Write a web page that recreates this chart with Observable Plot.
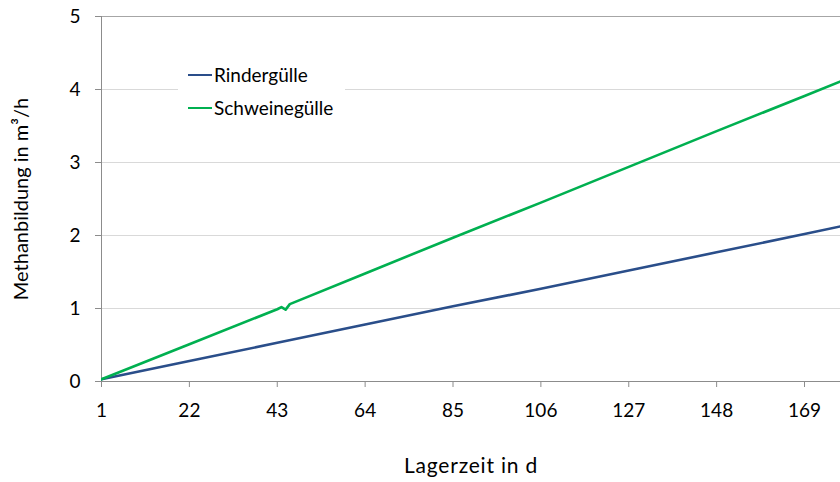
<!DOCTYPE html>
<html>
<head>
<meta charset="utf-8">
<script src="https://cdn.jsdelivr.net/npm/d3@7"></script>
<script src="https://cdn.jsdelivr.net/npm/@observablehq/plot@0.6"></script>
<style>
  html, body { margin: 0; padding: 0; background: #fff; }
  #wrap { position: relative; width: 840px; height: 482px; font-family: Lato, sans-serif; }
  #legend { position: absolute; left: 178px; top: 60px; width: 167px; height: 62px; background: #fff;
            font-family: Lato, sans-serif; font-size: 19px; color: #000; }
  .item { position: absolute; left: 10px; display: flex; align-items: center; height: 22px; line-height: 22px; }
  .sw { width: 24px; height: 0; border-top: 2.6px solid; margin-right: 2px; }
  svg [aria-label="y-axis label"] text { font-size: 20px; }
  svg [aria-label="x-axis label"] text { font-size: 21px; letter-spacing: 0.8px; }
</style>
</head>
<body>
<div id="wrap"><div id="legend"></div></div>
<script>
const seriesNames = ["Rindergülle", "Schweinegülle"];
const seriesColors = ["#2A4E8A", "#00B050"];
const xTicks = [1, 22, 43, 64, 85, 106, 127, 148, 169];
const yTicks = [0, 1, 2, 3, 4, 5];

const rinderDays   = [1, 22, 43, 64, 85, 106, 127, 148, 169, 178];
const rinderValues = [0.03, 0.28, 0.53, 0.78, 1.03, 1.27, 1.52, 1.77, 2.02, 2.13];

const schweineDays   = [1, 22, 43, 44, 45, 46, 64, 85, 106, 127, 148, 169, 178];
const schweineValues = [0.03, 0.51, 0.99, 1.02, 0.985, 1.06, 1.48, 1.97, 2.45, 2.94, 3.43, 3.91, 4.12];

const rows = [
  ...rinderDays.map((d, i) => ({day: d, value: rinderValues[i], series: seriesNames[0]})),
  ...schweineDays.map((d, i) => ({day: d, value: schweineValues[i], series: seriesNames[1]}))
];

const chart = Plot.plot({
  width: 840,
  height: 482,
  marginTop: 16,
  marginBottom: 101,
  marginLeft: 101,
  marginRight: 0,
  style: {fontFamily: "Lato, sans-serif", fontSize: "19px", color: "#000", background: "#fff"},
  x: {domain: [1, 177.6]},
  y: {domain: [0, 5]},
  color: {domain: seriesNames, range: seriesColors},
  marks: [
    Plot.ruleY(yTicks.filter(t => t > 0 && t < 5), {stroke: "#d9d9d9", strokeWidth: 1}),
    Plot.ruleY([5], {stroke: "#a6a6a6", strokeWidth: 1}),
    Plot.axisY({ticks: yTicks, tickSize: 6, tickPadding: 15, stroke: "#8c8c8c", tickFormat: d => String(d),
      label: "Methanbildung in m³/h", labelAnchor: "center", labelArrow: "none", labelOffset: 88, fill: "#000"}),
    Plot.axisX({ticks: xTicks, tickSize: 6, tickPadding: 16, stroke: "#8c8c8c", tickFormat: d => String(d),
      label: "Lagerzeit in d", labelAnchor: "center", labelArrow: "none", labelOffset: 91, fill: "#000"}),
    Plot.ruleX([1], {stroke: "#8c8c8c"}),
    Plot.ruleY([0], {stroke: "#8c8c8c"}),
    Plot.line(rows, {x: "day", y: "value", z: "series", stroke: "series", strokeWidth: 2.6, clip: true})
  ]
});
const wrap = document.getElementById("wrap");
wrap.insertBefore(chart, wrap.firstChild);

const legend = document.getElementById("legend");
seriesNames.forEach((name, i) => {
  const it = document.createElement("div");
  it.className = "item";
  it.style.top = (i === 0 ? 4 : 37) + "px";
  const sw = document.createElement("span");
  sw.className = "sw";
  sw.style.borderColor = seriesColors[i];
  const tx = document.createElement("span");
  tx.textContent = name;
  it.appendChild(sw); it.appendChild(tx);
  legend.appendChild(it);
});
</script>
</body>
</html>
